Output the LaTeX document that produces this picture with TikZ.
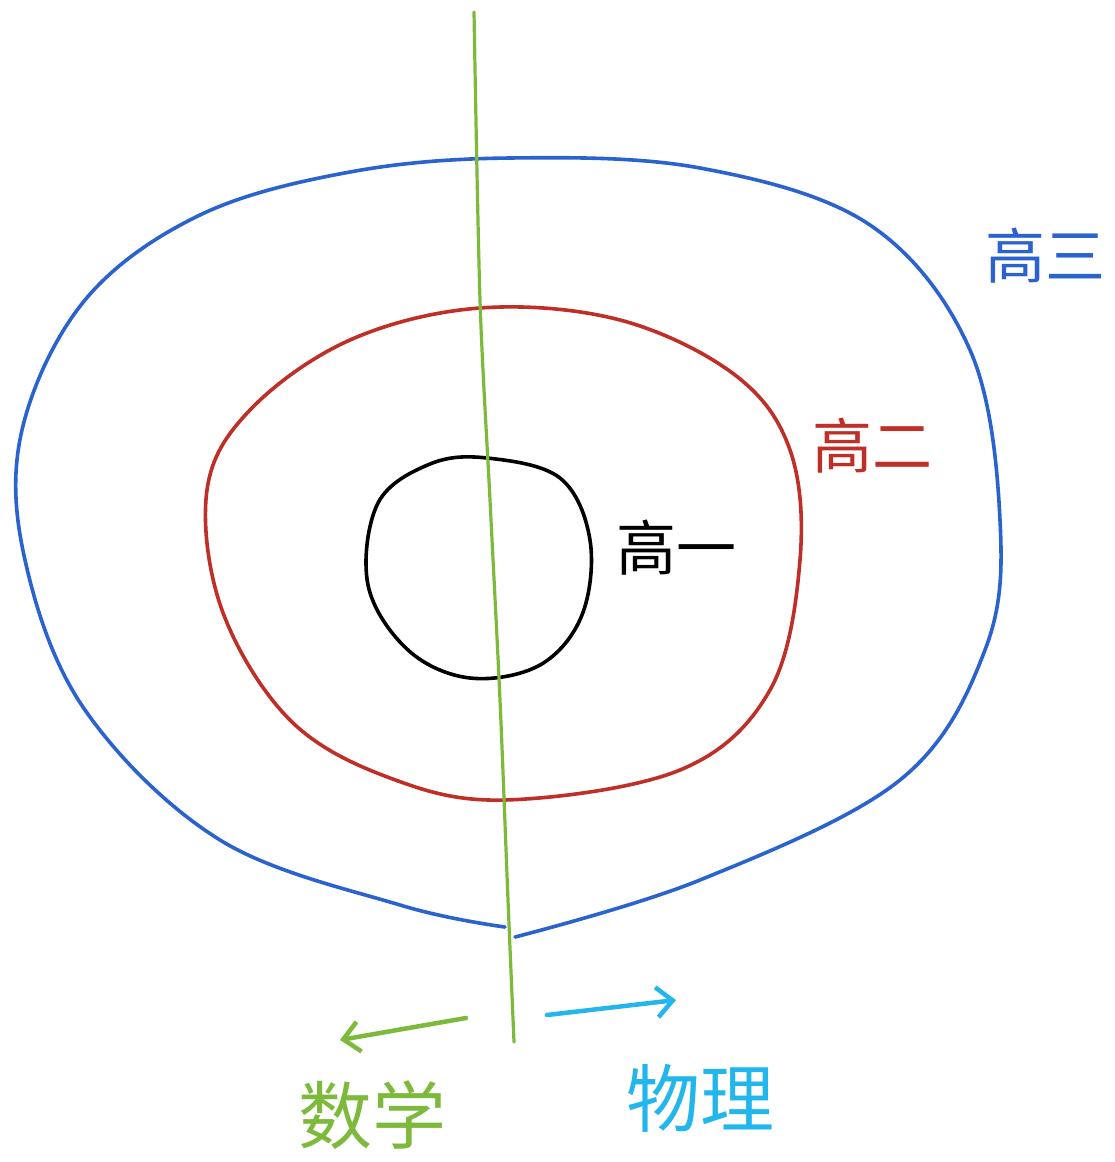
\documentclass[tikz,border=0pt]{standalone}
\usepackage{fontspec}
\newfontfamily\cjk{Noto Sans CJK SC}
\usetikzlibrary{arrows.meta}
\definecolor{cblue}{HTML}{2A62CF}
\definecolor{cred}{HTML}{BF2E27}
\definecolor{cgreen}{HTML}{7DBA3C}
\definecolor{ccyan}{HTML}{22B6EC}
\tikzset{
  ring/.style={line width=3.6pt, line cap=round, line join=round},
  lbl/.style={font=\cjk\fontsize{60}{64}\selectfont, inner sep=0pt},
  big/.style={font=\cjk\fontsize{74}{78}\selectfont, inner sep=0pt},
  arr/.style={line width=4.5pt, line cap=round, -{Straight Barb[length=16pt,width=30pt,line width=4.5pt]}}
}
\begin{document}
\begin{tikzpicture}[x=1pt,y=-1pt]
\useasboundingbox[fill=white] (0,0) rectangle (1115,1162);
% outer blue
\draw[ring, cblue] plot[smooth, tension=0.6] coordinates {
 (515,937) (700,880) (900,780) (985,650) (1000,520) (970,350) (870,225)
 (700,168) (510,158) (350,172) (200,215) (85,300) (22,430) (25,560) (85,710)
 (220,840) (400,905) (505,927)};
% middle red
\draw[ring, cred] plot[smooth cycle, tension=0.6] coordinates {
 (480,308) (620,320) (735,375) (790,450) (800,560) (770,690) (680,770)
 (505,800) (390,778) (290,720) (222,610) (207,490) (250,410) (350,340)};
% inner black
\draw[ring, black] plot[smooth cycle, tension=0.6] coordinates {
 (487,458) (560,478) (590,540) (582,615) (540,665) (470,678) (408,650)
 (368,585) (378,503) (430,464)};
% green divider
\coordinate (gtop) at (474,12);
\coordinate (gbot) at (514,1042);
\draw[ring, cgreen, line width=3.2pt] plot[smooth, tension=0.5] coordinates {(474,12) (480,300) (490,500) (500,700) (508,900) (514,1042)};
% arrows
\coordinate (la) at (466,1018);
\coordinate (lb) at (340,1040);
\coordinate (ra) at (547,1015);
\coordinate (rb) at (676,1000);
\draw[arr, cgreen] (la) -- (lb);
\draw[arr, ccyan] (ra) -- (rb);
% labels
\node[lbl, black] (g1) at (676,548) {高一};
\node[lbl, cred] (g2) at (872,446) {高二};
\node[lbl, cblue] (g3) at (1045,256) {高三};
\node[big, cgreen] (math) at (372,1115) {数学};
\node[big, ccyan] (phys) at (700,1098) {物理};
\end{tikzpicture}
\end{document}
